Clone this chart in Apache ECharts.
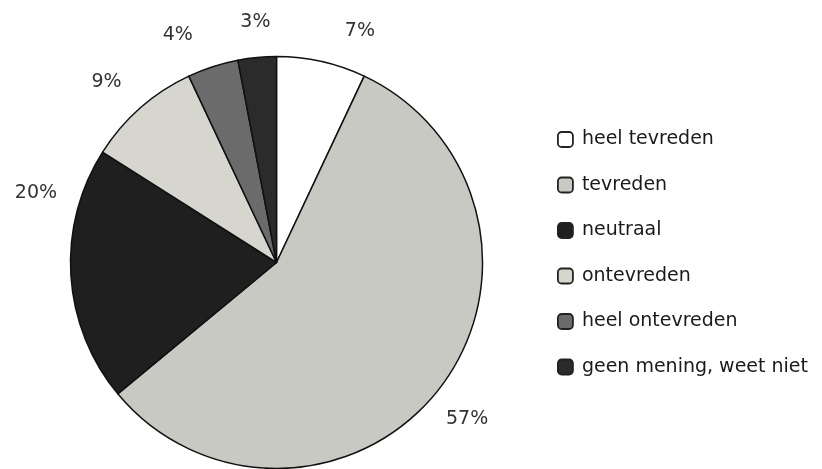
<!DOCTYPE html>
<html><head><meta charset="utf-8">
<script src="https://cdn.jsdelivr.net/npm/echarts@6/dist/echarts.min.js"></script>
<style>html,body{margin:0;padding:0;background:#fff}#c{width:822px;height:469px}</style>
</head><body><div id="c"></div>
<script>
var categories = ['heel tevreden','tevreden','neutraal','ontevreden','heel ontevreden','geen mening, weet niet'];
var values = [7, 57, 20, 9, 4, 3];
var colors = ['#ffffff','#c9c9c3','#1f1f1f','#d6d6cf','#6b6b6b','#2b2b2b'];
// label nudges (px) relative to a radial placement, to mimic the original layout
var labelNudge = [[30,8],[-3,6],[4,-85],[-8,3],[-23,6],[2,3]];

var CX = 276.5, CY = 262.5, R = 206, LR = 245;
var total = values.reduce(function(a,b){return a+b;},0);
var mids = []; var acc = 0;
values.forEach(function(v){ mids.push((acc + v/2)/total*2*Math.PI); acc += v; });

var chart = echarts.init(document.getElementById('c'));
chart.setOption({
  animation: false,
  color: colors,
  legend: {
    orient: 'vertical', left: 557, top: 130, padding: 0,
    itemWidth: 15, itemHeight: 15, itemGap: 26.5,
    icon: 'roundRect',
    itemStyle: { borderColor: '#222', borderWidth: 1.8 },
    textStyle: { fontSize: 19, color: '#1a1a1a', fontFamily: 'DejaVu Sans', padding: [0,0,0,4] },
    data: categories
  },
  series: [{
    type: 'pie',
    center: [CX, CY], radius: R,
    startAngle: 90, clockwise: true,
    avoidLabelOverlap: false,
    itemStyle: { borderColor: '#111', borderWidth: 1.5 },
    label: { show: true, position: 'outside', formatter: '{c}%', fontSize: 19, color: '#333', fontFamily: 'DejaVu Sans' },
    labelLine: { show: false, length: 20, length2: 0 },
    labelLayout: function(p){
      var i = p.dataIndex, a = mids[i];
      return { x: CX + LR*Math.sin(a) + labelNudge[i][0], y: CY - LR*Math.cos(a) + labelNudge[i][1], align: 'center', verticalAlign: 'middle' };
    },
    emphasis: { disabled: true },
    data: categories.map(function(n,i){ return { name: n, value: values[i] }; })
  }]
});
</script></body></html>
